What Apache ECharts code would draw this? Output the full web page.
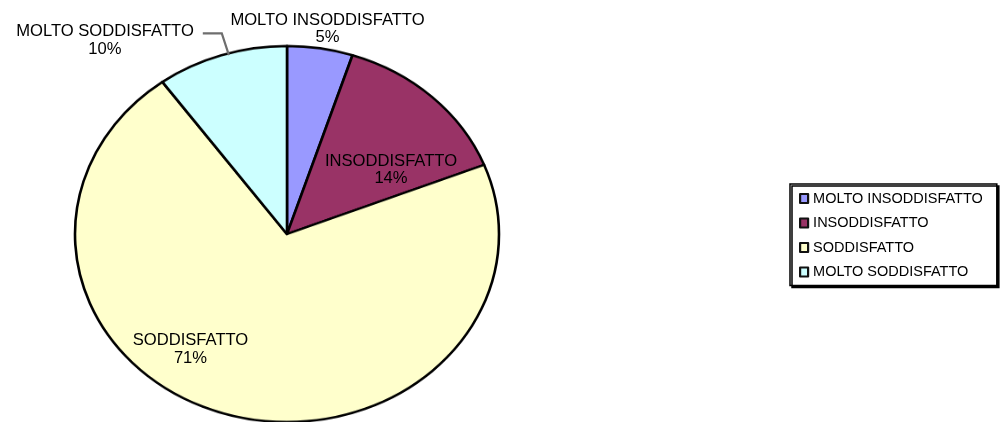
<!DOCTYPE html>
<html>
<head>
<meta charset="utf-8">
<script src="https://cdn.jsdelivr.net/npm/echarts@6/dist/echarts.min.js"></script>
<style>
  html, body { margin: 0; padding: 0; background: #ffffff; overflow: hidden; }
  #wrap { position: relative; width: 1000px; height: 422px; overflow: hidden; }
  #pieShape { position: absolute; left: 0; top: 0; width: 1000px; height: 476px; transform: scaleY(0.8868); transform-origin: 0 0; }
  #pieText { position: absolute; left: 0; top: 0; width: 1000px; height: 422px; }
</style>
</head>
<body>
<div id="wrap">
  <div id="pieShape"></div>
  <div id="pieText"></div>
</div>
<script>
// ---- data ----
const categories = ['MOLTO INSODDISFATTO', 'INSODDISFATTO', 'SODDISFATTO', 'MOLTO SODDISFATTO'];
const values = [5, 14, 71, 10];

// ---- styles / layout ----
const colors = ['#9999ff', '#993366', '#ffffcc', '#ccffff'];
const labelAnchors = [[327.5, 29], [391, 170], [190.5, 349.5], null];
const FONT = '"Liberation Sans", Arial, sans-serif';

const seriesData = categories.map((c, i) => ({ name: c, value: values[i] }));

// Elliptical pie body (circle scaled vertically by CSS)
const shape = echarts.init(document.getElementById('pieShape'), null, { renderer: 'canvas' });
shape.setOption({
  animation: false,
  color: colors,
  series: [{
    type: 'pie',
    center: [287, 263.9],
    radius: 212,
    startAngle: 90,
    clockwise: true,
    silent: true,
    label: { show: false },
    labelLine: { show: false },
    itemStyle: { borderColor: '#000000', borderWidth: 2.6 },
    data: seriesData
  }]
});

// Labels and legend (unscaled)
const text = echarts.init(document.getElementById('pieText'), null, { renderer: 'canvas' });
text.setOption({
  animation: false,
  legend: {
    orient: 'vertical',
    left: 790,
    top: 184,
    padding: [7, 14, 6, 9],
    itemWidth: 8,
    itemHeight: 9,
    itemGap: 9.5,
    icon: 'rect',
    selectedMode: false,
    backgroundColor: '#ffffff',
    borderColor: '#000000',
    borderWidth: 1.5,
    shadowColor: '#000000',
    shadowBlur: 0,
    shadowOffsetX: 2,
    shadowOffsetY: 2,
    textStyle: { fontFamily: FONT, fontSize: 14.5, color: '#000000' },
    data: categories.map((c, i) => ({
      name: c,
      itemStyle: { color: colors[i], opacity: 1, borderColor: '#111111', borderWidth: 2.2 }
    }))
  },
  series: [{
    type: 'pie',
    center: [287, 234],
    radius: 188,
    startAngle: 90,
    clockwise: true,
    silent: true,
    avoidLabelOverlap: false,
    itemStyle: { color: 'rgba(0,0,0,0)', borderWidth: 0 },
    label: {
      show: true,
      position: 'outside',
      color: '#000000',
      fontFamily: FONT,
      fontSize: 16.6,
      lineHeight: 17.5,
      distanceToLabelLine: 9,
      formatter: p => '{a|' + p.name + '}\n{a|' + Math.round(p.percent) + '%}',
      rich: { a: { align: 'center', fontFamily: FONT, fontSize: 16.6, lineHeight: 17.5, color: '#000000' } }
    },
    labelLine: { show: false, length: 23, length2: 19, lineStyle: { color: '#6e6e6e', width: 2.2 } },
    labelLayout: function (params) {
      const a = labelAnchors[params.dataIndex];
      if (!a) return {};
      return { x: a[0], y: a[1], align: 'center', verticalAlign: 'middle' };
    },
    data: categories.map((c, i) => ({
      name: c,
      value: values[i],
      label: i === 3 ? { padding: [14, 0, 0, 0] } : {},
      labelLine: i === 3 ? { show: true } : { show: false }
    }))
  }]
});
</script>
</body>
</html>
